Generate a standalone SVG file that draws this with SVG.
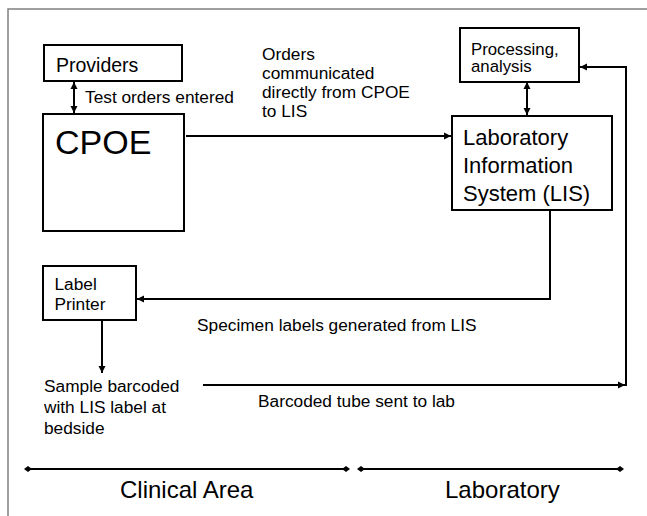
<svg xmlns="http://www.w3.org/2000/svg" width="647" height="516" viewBox="0 0 647 516">
<style>
text{font-family:"Liberation Sans",Arial,sans-serif;fill:#000}
.box{fill:#fff;stroke:#000;stroke-width:2}
.c{fill:none;stroke:#000;stroke-width:2}
.t17{font-size:17.3px}
</style>
<defs>
<marker id="ah" markerUnits="userSpaceOnUse" markerWidth="8" markerHeight="8" refX="7" refY="4" orient="auto-start-reverse">
<path d="M0,0.5 L7,4 L0,7.5 z" fill="#000"/>
</marker>
<marker id="dm" markerUnits="userSpaceOnUse" markerWidth="8" markerHeight="8" refX="4" refY="4" orient="auto">
<path d="M0,4 L4,1 L8,4 L4,7 z" fill="#000"/>
</marker>
</defs>
<rect width="647" height="516" fill="#fff"/>
<path d="M8,516 V9 H647" fill="none" stroke="#808080" stroke-width="1.5"/>

<g id="connectors">
<line class="c" x1="74" y1="82" x2="74" y2="113" marker-start="url(#ah)" marker-end="url(#ah)"/>
<line class="c" x1="186" y1="136" x2="451" y2="136" marker-end="url(#ah)"/>
<line class="c" x1="527" y1="82" x2="527" y2="115" marker-start="url(#ah)" marker-end="url(#ah)"/>
<path class="c" d="M550,210 V299 H137" marker-end="url(#ah)"/>
<line class="c" x1="102" y1="320" x2="102" y2="373" marker-end="url(#ah)"/>
<line class="c" x1="203" y1="385" x2="625" y2="385" marker-end="url(#ah)"/>
<path class="c" d="M626,386 V67 H580" marker-end="url(#ah)"/>
<line class="c" x1="28" y1="469" x2="346" y2="469" marker-start="url(#dm)" marker-end="url(#dm)"/>
<line class="c" x1="361" y1="469" x2="620" y2="469" marker-start="url(#dm)" marker-end="url(#dm)"/>
</g>

<g id="providers">
<rect class="box" x="44" y="45" width="138" height="36"/>
<text x="56" y="71.5" font-size="19.5">Providers</text>
</g>
<text class="t17" x="85" y="103">Test orders entered</text>

<g id="cpoe">
<rect class="box" x="43" y="114" width="141" height="117"/>
<text x="55" y="154" font-size="34">CPOE</text>
</g>

<text class="t17" x="262"><tspan x="262" y="60">Orders</tspan><tspan x="262" y="79">communicated</tspan><tspan x="262" y="98">directly from CPOE</tspan><tspan x="262" y="117">to LIS</tspan></text>

<g id="processing">
<rect class="box" x="460" y="28" width="119" height="54"/>
<text font-size="16.8"><tspan x="471" y="54.5">Processing,</tspan><tspan x="471" y="72">analysis</tspan></text>
</g>

<g id="lis">
<rect class="box" x="452" y="116" width="160" height="94"/>
<text font-size="22"><tspan x="463" y="145">Laboratory</tspan><tspan x="463" y="173">Information</tspan><tspan x="463" y="201">System (LIS)</tspan></text>
</g>

<g id="label-printer">
<rect class="box" x="43" y="266" width="93" height="54"/>
<text class="t17"><tspan x="54.5" y="289.5">Label</tspan><tspan x="54.5" y="310">Printer</tspan></text>
</g>

<text class="t17" x="197" y="330.5">Specimen labels generated from LIS</text>

<g id="sample">
<text class="t17"><tspan x="44" y="392">Sample barcoded</tspan><tspan x="44" y="413">with LIS label at</tspan><tspan x="44" y="434">bedside</tspan></text>
</g>

<text class="t17" x="258" y="407">Barcoded tube sent to lab</text>

<text x="120" y="498" font-size="24">Clinical Area</text>
<text x="445" y="498" font-size="24">Laboratory</text>
</svg>
